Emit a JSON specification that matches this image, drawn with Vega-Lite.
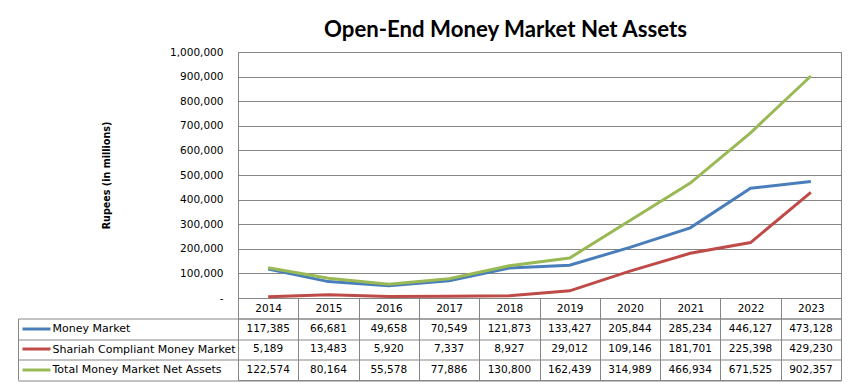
{
  "$schema": "https://vega.github.io/schema/vega-lite/v6.json",
  "autosize": {"type": "pad"},
  "padding": {"left": 17, "top": 18, "right": 10, "bottom": 10},
  "background": "white",
  "datasets": {
    "assets": [
      {"year": "2014", "series": "Money Market", "value": 117385},
      {"year": "2015", "series": "Money Market", "value": 66681},
      {"year": "2016", "series": "Money Market", "value": 49658},
      {"year": "2017", "series": "Money Market", "value": 70549},
      {"year": "2018", "series": "Money Market", "value": 121873},
      {"year": "2019", "series": "Money Market", "value": 133427},
      {"year": "2020", "series": "Money Market", "value": 205844},
      {"year": "2021", "series": "Money Market", "value": 285234},
      {"year": "2022", "series": "Money Market", "value": 446127},
      {"year": "2023", "series": "Money Market", "value": 473128},
      {"year": "2014", "series": "Shariah Compliant Money Market", "value": 5189},
      {"year": "2015", "series": "Shariah Compliant Money Market", "value": 13483},
      {"year": "2016", "series": "Shariah Compliant Money Market", "value": 5920},
      {"year": "2017", "series": "Shariah Compliant Money Market", "value": 7337},
      {"year": "2018", "series": "Shariah Compliant Money Market", "value": 8927},
      {"year": "2019", "series": "Shariah Compliant Money Market", "value": 29012},
      {"year": "2020", "series": "Shariah Compliant Money Market", "value": 109146},
      {"year": "2021", "series": "Shariah Compliant Money Market", "value": 181701},
      {"year": "2022", "series": "Shariah Compliant Money Market", "value": 225398},
      {"year": "2023", "series": "Shariah Compliant Money Market", "value": 429230},
      {"year": "2014", "series": "Total Money Market Net Assets", "value": 122574},
      {"year": "2015", "series": "Total Money Market Net Assets", "value": 80164},
      {"year": "2016", "series": "Total Money Market Net Assets", "value": 55578},
      {"year": "2017", "series": "Total Money Market Net Assets", "value": 77886},
      {"year": "2018", "series": "Total Money Market Net Assets", "value": 130800},
      {"year": "2019", "series": "Total Money Market Net Assets", "value": 162439},
      {"year": "2020", "series": "Total Money Market Net Assets", "value": 314989},
      {"year": "2021", "series": "Total Money Market Net Assets", "value": 466934},
      {"year": "2022", "series": "Total Money Market Net Assets", "value": 671525},
      {"year": "2023", "series": "Total Money Market Net Assets", "value": 902357}
    ]
  },
  "bounds": "flush",
  "spacing": 20.5,
  "vconcat": [
    {
      "width": 603,
      "height": 246,
      "title": {"text": "Open-End Money Market Net Assets", "font": "Lato", "fontSize": 22.2, "fontWeight": "bold", "color": "black", "anchor": "middle", "dx": -34, "offset": 6},
      "data": {"name": "assets"},
      "mark": {"type": "line", "strokeWidth": 3},
      "encoding": {
        "x": {"field": "year", "type": "ordinal", "scale": {"type": "point", "padding": 0.5}, "axis": null},
        "y": {
          "field": "value", "type": "quantitative",
          "scale": {"domain": [0, 1000000]},
          "axis": {
            "title": "Rupees (in millions)",
            "values": [0, 100000, 200000, 300000, 400000, 500000, 600000, 700000, 800000, 900000, 1000000],
            "labelExpr": "datum.value == 0 ? '-\u00a0\u00a0' : format(datum.value, ',')",
            "ticks": false, "domain": false,
            "grid": true, "gridColor": "#868686", "gridOpacity": 1,
            "labelPadding": 15, "labelFont": "DejaVu Sans", "labelFontSize": 10.5, "labelColor": "black",
            "titleFont": "DejaVu Sans", "titleFontSize": 9.6, "titleFontWeight": "bold", "titleColor": "black", "titlePadding": 58
          }
        },
        "color": {
          "field": "series", "type": "nominal",
          "scale": {"domain": ["Money Market", "Shariah Compliant Money Market", "Total Money Market Net Assets"], "range": ["#4A7EBB", "#BE4B48", "#98B954"]},
          "legend": null
        }
      }
    },
    {
      "width": 603,
      "height": 61.5,
      "data": {"name": "assets"},
      "resolve": {"axis": {"y": "independent"}},
      "layer": [
        {
          "mark": {"type": "text", "font": "DejaVu Sans", "fontSize": 10.5, "color": "black"},
          "encoding": {
            "x": {
              "field": "year", "type": "ordinal",
              "scale": {"type": "band", "paddingInner": 0, "paddingOuter": 0},
              "axis": {"orient": "top", "title": null, "tickBand": "extent", "tickSize": 20.5, "tickColor": "#868686", "labelPadding": -15, "labelAngle": 0, "domain": false, "grid": true, "gridColor": "#868686", "gridOpacity": 1, "labelFont": "DejaVu Sans", "labelFontSize": 10.5, "labelColor": "black"}
            },
            "y": {
              "field": "series", "type": "nominal",
              "sort": ["Money Market", "Shariah Compliant Money Market", "Total Money Market Net Assets"],
              "scale": {"type": "band", "paddingInner": 0, "paddingOuter": 0},
              "axis": {"orient": "left", "title": null, "tickBand": "extent", "tickSize": 220, "tickColor": "#868686", "grid": true, "gridColor": "#868686", "gridOpacity": 1, "domain": false, "labelAlign": "left", "labelPadding": -34, "labelBound": false, "labelFont": "DejaVu Sans", "labelFontSize": 11, "labelColor": "black", "labelLimit": 300}
            },
            "text": {"field": "value", "type": "quantitative", "format": ","}
          }
        },
        {
          "mark": {"type": "text", "opacity": 0},
          "encoding": {
            "y": {
              "field": "series", "type": "nominal",
              "sort": ["Money Market", "Shariah Compliant Money Market", "Total Money Market Net Assets"],
              "scale": {"type": "band", "paddingInner": 0, "paddingOuter": 0},
              "axis": {"orient": "left", "title": null, "offset": 216, "domain": false, "labels": false, "grid": false, "ticks": true, "tickSize": -28, "tickWidth": 3, "tickCap": "butt",
                "tickColor": {"condition": [{"test": "datum.value === 'Money Market'", "value": "#4A7EBB"}, {"test": "datum.value === 'Shariah Compliant Money Market'", "value": "#BE4B48"}], "value": "#98B954"}}
            }
          }
        },
        {
          "mark": {"type": "text", "opacity": 0},
          "encoding": {
            "y": {
              "field": "series", "type": "nominal",
              "sort": ["Money Market", "Shariah Compliant Money Market", "Total Money Market Net Assets"],
              "scale": {"type": "band", "paddingInner": 0, "paddingOuter": 0},
              "axis": {"orient": "left", "title": null, "offset": 220, "domain": true, "domainColor": "#868686", "labels": false, "grid": false, "ticks": false}
            }
          }
        }
      ]
    }
  ],
  "config": {
    "view": {"stroke": "#868686", "strokeWidth": 1}
  }
}
